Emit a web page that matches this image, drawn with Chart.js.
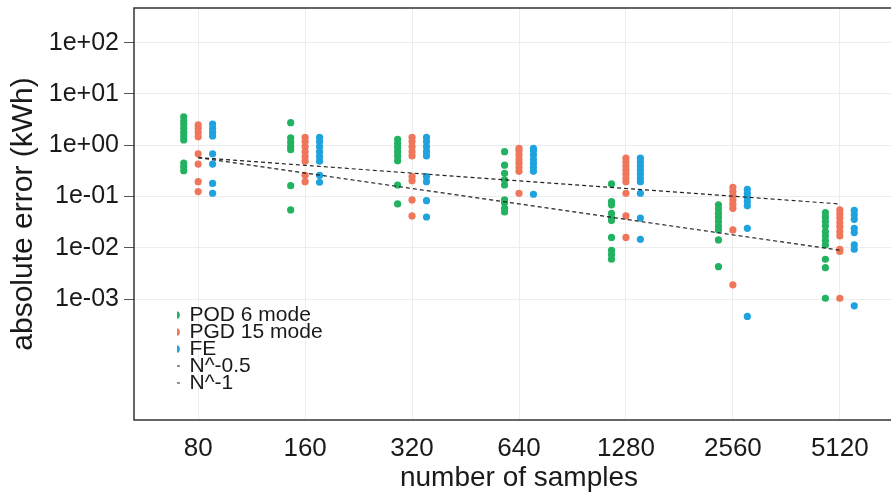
<!DOCTYPE html>
<html>
<head>
<meta charset="utf-8">
<script src="https://cdn.jsdelivr.net/npm/chart.js@4.4.1/dist/chart.umd.min.js"></script>
<style>
    html, body { margin: 0; padding: 0; background: #fff; overflow: hidden; }
</style>
</head>
<body>
<canvas id="myChart" width="920" height="497"></canvas>
<script>
const categories = ['80', '160', '320', '640', '1280', '2560', '5120']

// errors per sample size
const podErrors = [
    [3.6, 3.0, 2.57, 2.14, 1.79, 1.52, 1.27, 0.45, 0.38, 0.32],
    [2.76, 1.4, 1.15, 0.95, 0.82, 0.163, 0.055],
    [1.31, 1.09, 0.91, 0.75, 0.62, 0.5, 0.168, 0.072],
    [0.75, 0.41, 0.284, 0.211, 0.168, 0.086, 0.076, 0.059, 0.05],
    [0.176, 0.08, 0.069, 0.047, 0.038, 0.034, 0.016, 0.0089, 0.0073, 0.006],
    [0.069, 0.057, 0.047, 0.039, 0.0325, 0.0267, 0.0224, 0.0143, 0.0043],
    [0.0486, 0.0397, 0.0325, 0.0267, 0.0207, 0.0171, 0.0139, 0.0114, 0.006, 0.0041, 0.00104]
]
const pgdErrors = [
    [2.49, 2.14, 1.79, 1.47, 0.68, 0.43, 0.195, 0.125],
    [1.43, 1.18, 0.94, 0.75, 0.6, 0.49, 0.26, 0.195],
    [1.43, 1.18, 0.94, 0.75, 0.62, 0.245, 0.204, 0.086, 0.042],
    [0.87, 0.785, 0.65, 0.53, 0.446, 0.372, 0.311, 0.116],
    [0.56, 0.47, 0.395, 0.33, 0.276, 0.23, 0.195, 0.116, 0.042, 0.016],
    [0.152, 0.125, 0.103, 0.086, 0.071, 0.059, 0.0224, 0.0019],
    [0.055, 0.0458, 0.038, 0.031, 0.0259, 0.0207, 0.0171, 0.0094, 0.0085, 0.00104]
]
const feErrors = [
    [2.6, 2.14, 1.79, 1.52, 0.68, 0.43, 0.18, 0.116],
    [1.43, 1.18, 0.94, 0.75, 0.6, 0.49, 0.26, 0.19],
    [1.43, 1.18, 0.94, 0.75, 0.62, 0.245, 0.195, 0.083, 0.04],
    [0.87, 0.785, 0.65, 0.53, 0.446, 0.372, 0.311, 0.111],
    [0.56, 0.47, 0.395, 0.33, 0.276, 0.23, 0.195, 0.116, 0.038, 0.0147],
    [0.139, 0.116, 0.097, 0.08, 0.066, 0.024, 0.00046],
    [0.054, 0.044, 0.036, 0.024, 0.0199, 0.0114, 0.0094, 0.00074]
]
const rateHalf = [0.574, 0.406, 0.287, 0.203, 0.1435, 0.1015, 0.0718]
const rateOne = [0.574, 0.287, 0.1435, 0.0718, 0.0359, 0.0179, 0.009]

const yTickValues = [1e-3, 1e-2, 1e-1, 1, 10, 100]
const yTickLabels = ['1e-03', '1e-02', '1e-01', '1e+00', '1e+01', '1e+02']

const dodge = [-0.135, 0, 0.135]
const colors = ['#22b261', '#ef765b', '#1ea3de']

Chart.defaults.font.family = "'Liberation Sans', Arial, sans-serif"
Chart.defaults.color = '#1a1a1a'

function toPoints(series, shift) {
    let pts = []
    for (let i = 0; i < series.length; i++) {
        for (const v of series[i]) {
            pts.push({x: i + shift, y: v})
        }
    }
    return pts
}

function pointSet(label, series, k) {
    return {
        label: label,
        data: toPoints(series, dodge[k]),
        backgroundColor: colors[k],
        borderColor: colors[k],
        borderWidth: 0,
        pointRadius: 3.6,
        pointStyle: 'circle',
        order: 1
    }
}

function rateLine(label, values) {
    return {
        label: label,
        data: values.map((v, i) => ({x: i, y: v})),
        showLine: true,
        borderColor: '#222',
        backgroundColor: '#222',
        borderWidth: 1.2,
        borderDash: [4, 3],
        pointRadius: 0,
        pointStyle: 'line',
        order: 0
    }
}

// plot frame, ggplot style
const frame = {
    id: 'frame',
    afterDraw(chart) {
        const {ctx, chartArea: a} = chart
        ctx.save()
        ctx.strokeStyle = '#333'
        ctx.lineWidth = 1.5
        ctx.strokeRect(a.left, a.top, a.right - a.left, a.bottom - a.top)
        ctx.restore()
    }
}

// put the legend in the lower left of the panel
const moveLegend = {
    id: 'moveLegend',
    afterLayout(chart) {
        const lg = chart.legend
        const h = lg.bottom - lg.top
        lg.left = 177
        lg.right = 177 + lg.width
        lg.bottom = 389.5
        lg.top = lg.bottom - h
    }
}

const ctx = document.getElementById('myChart').getContext('2d')

new Chart(ctx, {
    type: 'scatter',
    data: {
        datasets: [
            pointSet('POD 6 mode', podErrors, 0),
            pointSet('PGD 15 mode', pgdErrors, 1),
            pointSet('FE', feErrors, 2),
            rateLine('N^-0.5', rateHalf),
            rateLine('N^-1', rateOne)
        ]
    },
    options: {
        responsive: false,
        animation: false,
        devicePixelRatio: 1,
        layout: {padding: {top: 8, right: 16, left: 0, bottom: 0}},
        plugins: {
            tooltip: {enabled: false},
            legend: {
                position: 'chartArea',
                align: 'end',
                labels: {
                    usePointStyle: true,
                    boxWidth: 6,
                    boxHeight: 5.5,
                    padding: -4,
                    font: {size: 21},
                    color: '#1a1a1a',
                    sort: (a, b) => a.datasetIndex - b.datasetIndex
                }
            }
        },
        scales: {
            x: {
                type: 'linear',
                min: -0.6,
                max: 6.6,
                bounds: 'data',
                afterBuildTicks: (scale) => {
                    scale.ticks = categories.map((c, i) => ({value: i}))
                },
                afterFit: (scale) => {
                    scale.height = 77
                    scale.paddingLeft = 0
                    scale.paddingRight = 0
                },
                ticks: {
                    autoSkip: false,
                    maxRotation: 0,
                    padding: 13,
                    font: {size: 26},
                    color: '#1a1a1a',
                    callback: (value, index) => categories[index]
                },
                grid: {color: '#ececec', drawTicks: false},
                border: {display: false},
                title: {
                    display: true,
                    text: 'number of samples',
                    font: {size: 28},
                    color: '#1a1a1a',
                    padding: {top: 0, bottom: 2}
                }
            },
            y: {
                type: 'logarithmic',
                min: 4.4e-6,
                max: 475,
                bounds: 'data',
                afterBuildTicks: (scale) => {
                    scale.ticks = yTickValues.map(v => ({value: v}))
                },
                afterFit: (scale) => {
                    scale.width = 134
                    scale.paddingTop = 0
                    scale.paddingBottom = 0
                },
                ticks: {
                    padding: 5,
                    font: {size: 25},
                    color: '#1a1a1a',
                    callback: (value, index) => yTickLabels[index]
                },
                grid: {color: '#ececec', tickColor: '#555', tickLength: 10},
                border: {display: false},
                title: {
                    display: true,
                    text: 'absolute error (kWh)',
                    font: {size: 30},
                    color: '#1a1a1a',
                    padding: {top: 6, bottom: 0}
                }
            }
        }
    },
    plugins: [frame, moveLegend]
})
</script>
</body>
</html>
